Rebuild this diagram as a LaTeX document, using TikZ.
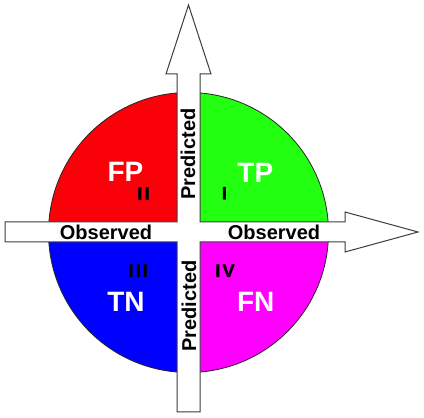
\documentclass[tikz,border=0pt]{standalone}
\usepackage{fontspec}
\setmainfont{Liberation Sans}
\newfontfamily\numfont[LetterSpace=12, FakeBold=2]{Liberation Sans Bold}
\definecolor{qred}{RGB}{250,0,8}
\definecolor{qgreen}{RGB}{34,255,17}
\definecolor{qblue}{RGB}{0,0,255}
\definecolor{qmag}{RGB}{255,0,255}
\definecolor{edge}{RGB}{60,60,60}
\tikzset{
  big/.style={text=white, font=\fontsize{28}{30}\selectfont\bfseries, inner sep=0pt},
  roman/.style={text=black, font=\fontsize{18}{20}\selectfont\numfont, inner sep=0pt},
  axislabel/.style={text=black, font=\fontsize{20}{22}\selectfont\bfseries, inner sep=0pt},
  arrowshape/.style={fill=white, draw=edge, line width=1pt, line join=miter},
}
\begin{document}
\begin{tikzpicture}[x=1pt,y=1pt]
\useasboundingbox (0,0) rectangle (424,418);
\coordinate (c) at (188.5,185.5);
% quadrants
\fill[qgreen] (c) -- ++(0:140) arc[start angle=0, end angle=90, radius=140] -- cycle;
\fill[qred] (c) -- ++(90:140) arc[start angle=90, end angle=180, radius=140] -- cycle;
\fill[qblue] (c) -- ++(180:140) arc[start angle=180, end angle=270, radius=140] -- cycle;
\fill[qmag] (c) -- ++(270:140) arc[start angle=270, end angle=360, radius=140] -- cycle;
\draw[black!85, line width=0.8pt] (c) circle[radius=140];
% cross-shaped double arrow
\draw[arrowshape] (188.5,413) -- (211,344) -- (200,344) -- (200,196) -- (345,196) -- (345,206)
  -- (418,186) -- (345,166) -- (345,176) -- (200,176) -- (200,6) -- (177,6) -- (177,176)
  -- (5,176) -- (5,196) -- (177,196) -- (177,344) -- (166,344) -- cycle;
% labels
\node[big] (fp) at (125.5,245.8) {FP};
\node[roman] (n2) at (143.5,224.3) {II};
\node[big] (tp) at (255.3,244.7) {TP};
\node[roman] (n1) at (224.3,224.7) {I};
\node[roman] (n3) at (138.3,147.3) {III};
\node[big] (tn) at (126,116.3) {TN};
\node[roman] (n4) at (225,147.3) {IV};
\node[big] (fn) at (255.8,116.3) {FN};
\node[axislabel, rotate=90] (pt) at (188,264) {Predicted};
\node[axislabel, rotate=90] (pb) at (189,112) {Predicted};
\node[axislabel] (ol) at (106,185.5) {Observed};
\node[axislabel] (or) at (274,185.5) {Observed};
\end{tikzpicture}
\end{document}
